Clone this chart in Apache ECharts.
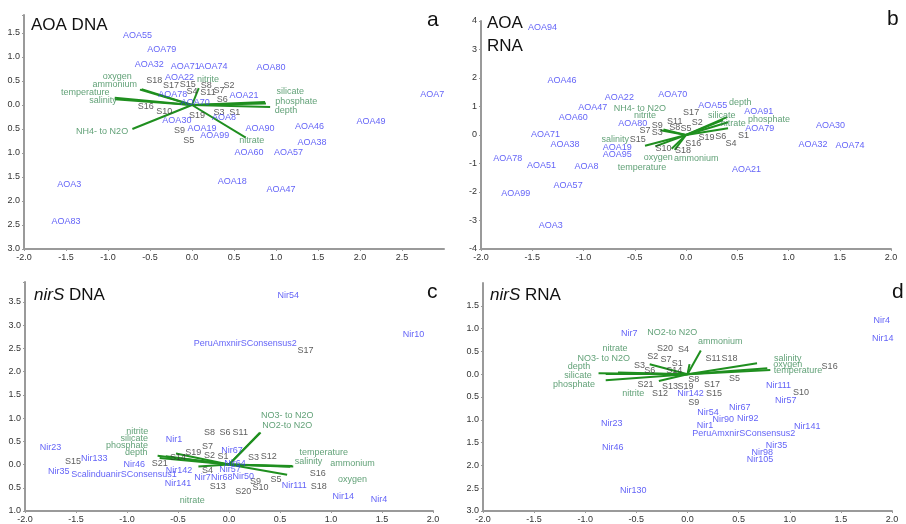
<!DOCTYPE html>
<html><head><meta charset="utf-8">
<script src="https://cdn.jsdelivr.net/npm/echarts@6/dist/echarts.min.js"></script>
<style>html,body{margin:0;padding:0;background:#fff}#c{width:906px;height:524px}</style>
</head><body><div id="c"></div>
<script>
// ---------- Panel a: AOA DNA ----------
const aTaxa = [['AOA55',-0.65,1.44],['AOA79',-0.36,1.15],['AOA32',-0.51,0.85],['AOA71',-0.08,0.81],['AOA74',0.25,0.81],['AOA80',0.94,0.79],['AOA22',-0.15,0.58],['AOA78',-0.23,0.21],['AOA70',0.04,0.06],['AOA21',0.62,0.19],['AOA8',0.38,-0.27],['AOA30',-0.18,-0.33],['AOA19',0.12,-0.48],['AOA99',0.27,-0.63],['AOA90',0.81,-0.48],['AOA46',1.40,-0.45],['AOA49',2.13,-0.35],['AOA7',2.86,0.21],['AOA38',1.43,-0.79],['AOA57',1.15,-0.98],['AOA60',0.68,-1.00],['AOA18',0.48,-1.60],['AOA47',1.06,-1.77],['AOA3',-1.46,-1.65],['AOA83',-1.50,-2.42]];
const aSamples = [['S18',-0.45,0.52],['S17',-0.25,0.40],['S15',-0.05,0.42],['S8',0.17,0.40],['S7',0.32,0.31],['S2',0.44,0.40],['S4',0.00,0.29],['S11',0.19,0.25],['S6',0.36,0.12],['S16',-0.55,-0.04],['S10',-0.33,-0.13],['S19',0.06,-0.21],['S3',0.32,-0.15],['S1',0.51,-0.15],['S9',-0.15,-0.54],['S5',-0.04,-0.75]];
const aEnvLabels = [['oxygen',-0.89,0.60],['ammonium',-0.92,0.42],['temperature',-1.27,0.25],['salinity',-1.06,0.10],['NH4- to N2O',-1.07,-0.56],['nitrite',0.19,0.54],['silicate',1.17,0.29],['phosphate',1.24,0.08],['depth',1.12,-0.12],['nitrate',0.71,-0.75]];
const aVectors = [['oxygen',-0.60,0.33],['ammonium',-0.62,0.32],['temperature',-0.92,0.15],['salinity',-0.92,0.12],['NH4- to N2O',-0.71,-0.50],['nitrite',0.08,0.35],['silicate',0.87,0.06],['phosphate',0.88,0.03],['depth',0.93,-0.04],['nitrate',0.64,-0.68]];

// ---------- Panel b: AOA RNA ----------
const bTaxa = [['AOA94',-1.40,3.78],['AOA46',-1.21,1.92],['AOA22',-0.65,1.33],['AOA70',-0.13,1.43],['AOA47',-0.91,0.98],['AOA60',-1.10,0.63],['AOA80',-0.52,0.42],['AOA55',0.26,1.05],['AOA91',0.71,0.84],['AOA79',0.72,0.24],['AOA30',1.41,0.35],['AOA32',1.24,-0.35],['AOA74',1.60,-0.38],['AOA71',-1.37,0.03],['AOA38',-1.18,-0.35],['AOA19',-0.67,-0.45],['AOA95',-0.67,-0.70],['AOA78',-1.74,-0.84],['AOA51',-1.41,-1.08],['AOA8',-0.97,-1.12],['AOA21',0.59,-1.22],['AOA57',-1.15,-1.78],['AOA99',-1.66,-2.06],['AOA3',-1.32,-3.18]];
const bSamples = [['S17',0.05,0.80],['S11',-0.11,0.49],['S2',0.11,0.45],['S9',-0.28,0.35],['S8',-0.11,0.28],['S5',0.00,0.21],['S7',-0.40,0.14],['S3',-0.28,0.10],['S15',-0.47,-0.17],['S19',0.20,-0.10],['S6',0.34,-0.07],['S1',0.56,-0.03],['S4',0.44,-0.31],['S16',0.07,-0.31],['S10',-0.22,-0.49],['S18',-0.03,-0.56]];
const bEnvLabels = [['NH4- to N2O',-0.45,0.94],['nitrite',-0.40,0.70],['depth',0.53,1.15],['silicate',0.35,0.70],['nitrate',0.46,0.42],['phosphate',0.81,0.56],['salinity',-0.69,-0.17],['oxygen',-0.27,-0.80],['ammonium',0.10,-0.84],['temperature',-0.43,-1.15]];
const bVectors = [['nitrite',-0.25,0.17],['NH4- to N2O',-0.22,0.19],['salinity',-0.40,-0.38],['depth',0.40,0.63],['silicate',0.36,0.52],['nitrate',0.41,0.45],['phosphate',0.41,0.24],['ammonium',-0.11,-0.52],['oxygen',-0.14,-0.48],['temperature',-0.30,-0.40]];

// ---------- Panel c: nirS DNA ----------
const cTaxa = [['Nir54',0.58,3.64],['Nir10',1.81,2.80],['PeruAmxnirSConsensus2',0.16,2.61],['Nir23',-1.75,0.37],['Nir1',-0.54,0.54],['Nir67',0.03,0.30],['Nir133',-1.32,0.13],['Nir46',-0.93,0.00],['Nir64',0.06,0.02],['Nir35',-1.67,-0.15],['ScalinduanirSConsensus1',-1.03,-0.22],['Nir142',-0.49,-0.13],['Nir57',0.01,-0.11],['Nir7',-0.26,-0.28],['Nir68',-0.07,-0.28],['Nir50',0.14,-0.26],['Nir141',-0.50,-0.41],['Nir111',0.64,-0.45],['Nir14',1.12,-0.69],['Nir4',1.47,-0.75]];
const cSamples = [['S17',0.75,2.46],['S8',-0.19,0.69],['S6',-0.04,0.69],['S11',0.11,0.69],['S7',-0.21,0.39],['S19',-0.35,0.26],['S2',-0.19,0.19],['S1',-0.06,0.17],['S14',-0.50,0.15],['S3',0.24,0.15],['S12',0.39,0.17],['S15',-1.53,0.06],['S21',-0.68,0.02],['S4',-0.21,-0.13],['S16',0.87,-0.19],['S9',0.26,-0.37],['S5',0.46,-0.32],['S18',0.88,-0.47],['S13',-0.11,-0.47],['S10',0.31,-0.50],['S20',0.14,-0.58]];
const cEnvLabels = [['NO3- to N2O',0.57,1.06],['NO2-to N2O',0.57,0.84],['nitrite',-0.90,0.71],['silicate',-0.93,0.56],['phosphate',-1.00,0.41],['depth',-0.91,0.26],['temperature',0.93,0.26],['salinity',0.78,0.06],['ammonium',1.21,0.02],['oxygen',1.21,-0.32],['nitrate',-0.36,-0.78]];
const cVectors = [['NO3- to N2O',0.31,0.69],['NO2-to N2O',0.30,0.68],['nitrite',-0.52,0.24],['silicate',-0.62,0.18],['phosphate',-0.70,0.19],['depth',-0.68,0.14],['temperature',0.62,-0.03],['salinity',0.60,-0.05],['ammonium',0.63,-0.04],['oxygen',0.57,-0.22],['nitrate',-0.30,-0.04]];

// ---------- Panel d: nirS RNA ----------
const dTaxa = [['Nir4',1.90,1.17],['Nir14',1.91,0.78],['Nir7',-0.57,0.89],['Nir111',0.89,-0.24],['Nir142',0.03,-0.43],['Nir57',0.96,-0.57],['Nir67',0.51,-0.72],['Nir54',0.20,-0.85],['Nir92',0.59,-0.98],['Nir90',0.35,-1.00],['Nir23',-0.74,-1.09],['Nir1',0.17,-1.13],['Nir141',1.17,-1.15],['PeruAmxnirSConsensus2',0.55,-1.30],['Nir35',0.87,-1.57],['Nir46',-0.73,-1.61],['Nir98',0.73,-1.72],['Nir105',0.71,-1.87],['Nir130',-0.53,-2.54]];
const dSamples = [['S20',-0.22,0.57],['S4',-0.04,0.54],['S2',-0.34,0.39],['S7',-0.21,0.33],['S1',-0.10,0.24],['S11',0.25,0.35],['S18',0.41,0.35],['S16',1.39,0.17],['S3',-0.47,0.20],['S6',-0.37,0.09],['S14',-0.13,0.07],['S8',0.06,-0.11],['S5',0.46,-0.09],['S21',-0.41,-0.22],['S13',-0.17,-0.26],['S19',-0.02,-0.26],['S17',0.24,-0.22],['S12',-0.27,-0.43],['S15',0.26,-0.43],['S10',1.11,-0.41],['S9',0.06,-0.61]];
const dEnvLabels = [['NO2-to N2O',-0.15,0.91],['ammonium',0.32,0.72],['nitrate',-0.71,0.57],['NO3- to N2O',-0.82,0.35],['depth',-1.06,0.17],['silicate',-1.07,-0.02],['phosphate',-1.11,-0.22],['nitrite',-0.53,-0.43],['salinity',0.98,0.35],['oxygen',0.98,0.22],['temperature',1.08,0.07]];
const dVectors = [['NO2-to N2O',0.02,0.22],['ammonium',0.13,0.52],['nitrate',-0.37,0.22],['NO3- to N2O',-0.68,0.04],['depth',-0.87,0.02],['silicate',-0.80,0.00],['phosphate',-0.80,-0.13],['nitrite',-0.28,-0.15],['salinity',0.68,0.24],['oxygen',0.78,0.13],['temperature',0.81,0.09]];

const FONT = '"Liberation Sans", Arial, sans-serif';
const BLUE = '#3a3af5', BLACK = '#333333', GREEN_T = '#3a8a55', GREEN_L = '#1f8f1f', AXIS = '#9a9a9a';

const panels = [
  {taxa:aTaxa, samples:aSamples, env:aEnvLabels, vec:aVectors,
   grid:{left:24, right:462, top:15, bottom:275}, x:[-2,3,0.5], y:[-3,1.875,0.5], ySigned:false, hideXMax:true},
  {taxa:bTaxa, samples:bSamples, env:bEnvLabels, vec:bVectors,
   grid:{left:481, right:15, top:21, bottom:275}, x:[-2,2,0.5], y:[-4,4,1], ySigned:true, hideXMax:false},
  {taxa:cTaxa, samples:cSamples, env:cEnvLabels, vec:cVectors,
   grid:{left:25, right:473, top:282, bottom:13}, x:[-2,2,0.5], y:[-1,3.93,0.5], ySigned:false, hideXMax:false},
  {taxa:dTaxa, samples:dSamples, env:dEnvLabels, vec:dVectors,
   grid:{left:483, right:14, top:283, bottom:12}, x:[-2,2,0.5], y:[-3,2,0.5], ySigned:false, hideYMax:true}
];

function onStep(v, step){ const r = v/step; return Math.abs(r - Math.round(r)) < 1e-6; }

const grids=[], xAxes=[], yAxes=[], series=[];
panels.forEach((p,i)=>{
  grids.push(p.grid);
  xAxes.push({type:'value', gridIndex:i, min:p.x[0], max:p.x[1], interval:p.x[2],
    splitLine:{show:false}, axisLine:{onZero:false, lineStyle:{color:AXIS, width:2}},
    axisTick:{length:2, lineStyle:{color:AXIS}},
    axisLabel:{fontSize:9, color:'#333', fontFamily:FONT, margin:4, showMaxLabel:!p.hideXMax,
      formatter:v=> onStep(v,p.x[2]) ? v.toFixed(1) : ''}});
  yAxes.push({type:'value', gridIndex:i, min:p.y[0], max:p.y[1], interval:p.y[2],
    splitLine:{show:false}, axisLine:{onZero:false, lineStyle:{color:AXIS, width:2}},
    axisTick:{length:2, lineStyle:{color:AXIS}},
    axisLabel:{fontSize:9, color:'#333', fontFamily:FONT, margin:4, showMaxLabel:!p.hideYMax,
      formatter:v=> !onStep(v,p.y[2]) ? '' : (p.ySigned ? String(Math.round(v)) : Math.abs(v).toFixed(1))}});
  series.push({type:'lines', coordinateSystem:'cartesian2d', xAxisIndex:i, yAxisIndex:i, silent:true,
    lineStyle:{color:GREEN_L, width:2, opacity:1},
    data:p.vec.map(v=>({name:v[0], coords:[[0,0],[v[1],v[2]]]}))});
  const txt = (arr,color)=>({type:'scatter', xAxisIndex:i, yAxisIndex:i, silent:true,
    symbolSize:1, itemStyle:{color:'rgba(0,0,0,0)'},
    label:{show:true, position:'inside', formatter:'{b}', color:color, fontSize:9, fontFamily:FONT},
    data:arr.map(d=>({name:d[0], value:[d[1],d[2]]}))});
  series.push(txt(p.env, GREEN_T));
  series.push(txt(p.samples, BLACK));
  series.push(txt(p.taxa, BLUE));
});

const t = (text,x,y,size,align)=>({type:'text', x:x, y:y, silent:true,
  style:{text:text, fontSize:size, fontFamily:FONT, fill:'#111', textAlign:align||'left', textVerticalAlign:'top', lineHeight:23,
    rich:{i:{fontStyle:'italic', fontSize:size, fontFamily:FONT, fill:'#111'}, n:{fontSize:size, fontFamily:FONT, fill:'#111'}}}});

const chart = echarts.init(document.getElementById('c'), null, {renderer:'canvas'});
chart.setOption({
  animation:false,
  grid:grids, xAxis:xAxes, yAxis:yAxes, series:series,
  graphic:[
    t('AOA DNA',31,14,17), t('a',427,9,21),
    t('AOA\nRNA',487,12,17), t('b',887,8,21),
    t('{i|nirS}{n| DNA}',34,284,17), t('c',427,281,21),
    t('{i|nirS}{n| RNA}',490,284,17), t('d',892,281,21)
  ]
});
</script></body></html>
